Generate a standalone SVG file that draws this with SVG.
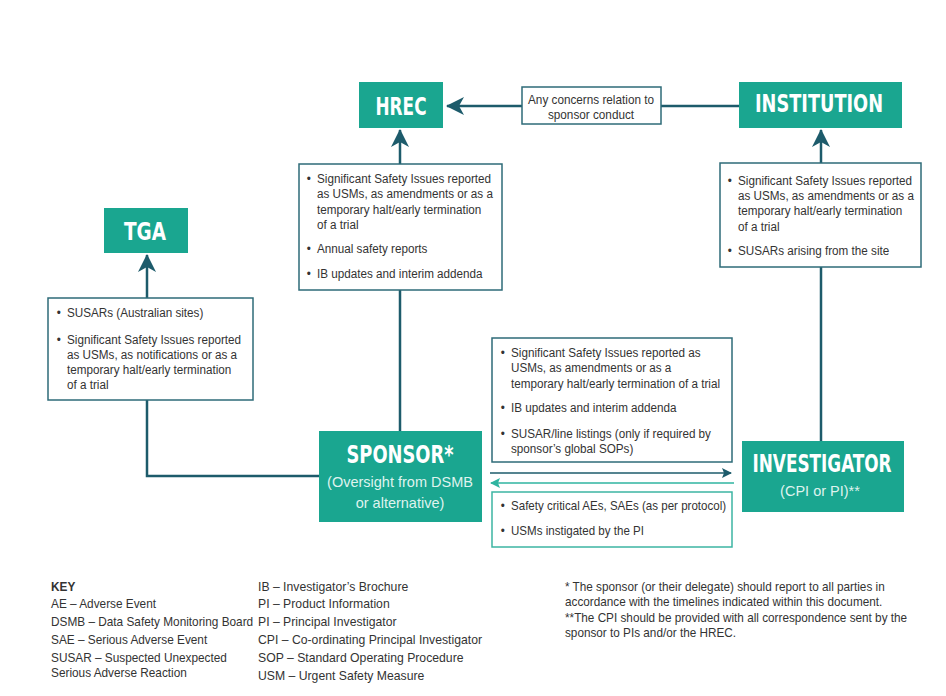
<svg xmlns="http://www.w3.org/2000/svg" width="946" height="696" viewBox="0 0 946 696">
<defs>
<style>
.hd{fill:#1aa690}
.hdt{font-family:"DejaVu Sans Condensed","Liberation Sans",sans-serif;font-weight:bold;fill:#fff;text-anchor:middle}
.sub{font-family:"Liberation Sans",sans-serif;font-size:14.5px;fill:#dff3ee;text-anchor:middle}
.bx{fill:#fff;stroke:#2e6b78;stroke-width:1.5}
.bxl{fill:#fff;stroke:#3cb5a3;stroke-width:1.5}
.t{font-family:"Liberation Sans",sans-serif;font-size:12.5px;fill:#333}
.k{font-family:"Liberation Sans",sans-serif;font-size:13px;fill:#333}
.c{fill:none;stroke:#1d5b6b;stroke-width:2.5}
.cs{fill:none;stroke:#1d5b6b;stroke-width:1.5}
.cl{fill:none;stroke:#2fb4a0;stroke-width:1.5}
</style>
<marker id="big" viewBox="0 0 18 18" refX="17" refY="9" markerWidth="18" markerHeight="18" markerUnits="userSpaceOnUse" orient="auto">
<path d="M0,0 L18,9 L0,18 L5,9 z" fill="#1d5b6b"/>
</marker>
<marker id="sm" viewBox="0 0 10 10" refX="9" refY="5" markerWidth="10" markerHeight="10" markerUnits="userSpaceOnUse" orient="auto">
<path d="M0,0 L10,5 L0,10 L2,5 z" fill="#1d5b6b"/>
</marker>
<marker id="sml" viewBox="0 0 10 10" refX="9" refY="5" markerWidth="10" markerHeight="10" markerUnits="userSpaceOnUse" orient="auto">
<path d="M0,0 L10,5 L0,10 L2,5 z" fill="#2fb4a0"/>
</marker>
</defs>
<rect width="946" height="696" fill="#fff"/>

<g id="connectors">
<path class="c" d="M739,106 L447,106" marker-end="url(#big)"/>
<path class="c" d="M400,431 L400,130" marker-end="url(#big)"/>
<path class="c" d="M319,476 L147,476 L147,255" marker-end="url(#big)"/>
<path class="c" d="M821,441 L821,130" marker-end="url(#big)"/>
<path class="cs" d="M490,473 L731,473" marker-end="url(#sm)"/>
<path class="cl" d="M734,483 L491,483" marker-end="url(#sml)"/>
</g>

<g id="hrec">
<rect class="hd" x="359" y="82" width="84" height="46"/>
<text class="hdt" x="401" y="115" font-size="24" textLength="51" lengthAdjust="spacingAndGlyphs">HREC</text>
</g>

<g id="institution">
<rect class="hd" x="739" y="82" width="163" height="46"/>
<text class="hdt" x="819" y="112" font-size="24" textLength="128" lengthAdjust="spacingAndGlyphs">INSTITUTION</text>
</g>

<g id="tga">
<rect class="hd" x="104" y="208" width="84" height="45"/>
<text class="hdt" x="145" y="240" font-size="24" textLength="42" lengthAdjust="spacingAndGlyphs">TGA</text>
</g>

<g id="sponsor">
<rect class="hd" x="319" y="431" width="163" height="91"/>
<text class="hdt" x="400" y="463" font-size="25" textLength="107" lengthAdjust="spacingAndGlyphs">SPONSOR*</text>
<text class="sub" x="400" y="487">(Oversight from DSMB</text>
<text class="sub" x="400" y="508">or alternative)</text>
</g>

<g id="investigator">
<rect class="hd" x="742" y="441" width="162" height="71"/>
<text class="hdt" x="822" y="472" font-size="25" textLength="139" lengthAdjust="spacingAndGlyphs">INVESTIGATOR</text>
<text class="sub" x="820" y="496" font-size="13.5">(CPI or PI)**</text>
</g>

<g id="concerns">
<rect class="bx" x="522" y="87" width="139" height="37"/>
<g transform="translate(591,0) scale(0.94,1)">
<text class="t" x="0" y="104" text-anchor="middle">Any concerns relation to</text>
<text class="t" x="0" y="119" text-anchor="middle">sponsor conduct</text>
</g>
</g>

<g id="hrec-box">
<rect class="bx" x="299" y="164" width="203" height="126"/>
<g transform="translate(317,0) scale(0.935,1)">
<text class="t" x="-11" y="183">•</text>
<text class="t" x="0" y="183">Significant Safety Issues reported</text>
<text class="t" x="0" y="198">as USMs, as amendments or as a</text>
<text class="t" x="0" y="214">temporary halt/early termination</text>
<text class="t" x="0" y="229">of a trial</text>
<text class="t" x="-11" y="253">•</text>
<text class="t" x="0" y="253">Annual safety reports</text>
<text class="t" x="-11" y="278">•</text>
<text class="t" x="0" y="278">IB updates and interim addenda</text>
</g>
</g>

<g id="institution-box">
<rect class="bx" x="720" y="163" width="201" height="104"/>
<g transform="translate(738,0) scale(0.935,1)">
<text class="t" x="-11" y="185">•</text>
<text class="t" x="0" y="185">Significant Safety Issues reported</text>
<text class="t" x="0" y="200">as USMs, as amendments or as a</text>
<text class="t" x="0" y="215">temporary halt/early termination</text>
<text class="t" x="0" y="231">of a trial</text>
<text class="t" x="-11" y="255">•</text>
<text class="t" x="0" y="255">SUSARs arising from the site</text>
</g>
</g>

<g id="tga-box">
<rect class="bx" x="48" y="298" width="205" height="102"/>
<g transform="translate(67,0) scale(0.935,1)">
<text class="t" x="-11" y="317">•</text>
<text class="t" x="0" y="317">SUSARs (Australian sites)</text>
<text class="t" x="-11" y="344">•</text>
<text class="t" x="0" y="344">Significant Safety Issues reported</text>
<text class="t" x="0" y="359">as USMs, as notifications or as a</text>
<text class="t" x="0" y="374">temporary halt/early termination</text>
<text class="t" x="0" y="389">of a trial</text>
</g>
</g>

<g id="to-investigator-box">
<rect class="bx" x="492" y="338" width="240" height="124"/>
<g transform="translate(511,0) scale(0.935,1)">
<text class="t" x="-11" y="357">•</text>
<text class="t" x="0" y="357">Significant Safety Issues reported as</text>
<text class="t" x="0" y="372">USMs, as amendments or as a</text>
<text class="t" x="0" y="388">temporary halt/early termination of a trial</text>
<text class="t" x="-11" y="412">•</text>
<text class="t" x="0" y="412">IB updates and interim addenda</text>
<text class="t" x="-11" y="438">•</text>
<text class="t" x="0" y="438">SUSAR/line listings (only if required by</text>
<text class="t" x="0" y="453">sponsor’s global SOPs)</text>
</g>
</g>

<g id="to-sponsor-box">
<rect class="bxl" x="492" y="492" width="240" height="55"/>
<g transform="translate(511,0) scale(0.925,1)">
<text class="t" x="-11" y="510">•</text>
<text class="t" x="0" y="510">Safety critical AEs, SAEs (as per protocol)</text>
<text class="t" x="-11" y="535">•</text>
<text class="t" x="0" y="535">USMs instigated by the PI</text>
</g>
</g>

<g id="key">
<g transform="translate(51,0) scale(0.91,1)">
<text class="k" x="0" y="591" font-weight="bold">KEY</text>
<text class="k" x="0" y="608">AE – Adverse Event</text>
<text class="k" x="0" y="626">DSMB – Data Safety Monitoring Board</text>
<text class="k" x="0" y="644">SAE – Serious Adverse Event</text>
<text class="k" x="0" y="662">SUSAR – Suspected Unexpected</text>
<text class="k" x="0" y="677">Serious Adverse Reaction</text>
</g>
<g transform="translate(258,0) scale(0.94,1)">
<text class="k" x="0" y="591">IB – Investigator’s Brochure</text>
<text class="k" x="0" y="608">PI – Product Information</text>
<text class="k" x="0" y="626">PI – Principal Investigator</text>
<text class="k" x="0" y="644">CPI – Co-ordinating Principal Investigator</text>
<text class="k" x="0" y="662">SOP – Standard Operating Procedure</text>
<text class="k" x="0" y="680">USM – Urgent Safety Measure</text>
</g>
</g>

<g id="notes">
<g transform="translate(565,0) scale(0.94,1)">
<text class="t" x="0" y="591">* The sponsor (or their delegate) should report to all parties in</text>
<text class="t" x="0" y="606">accordance with the timelines indicated within this document.</text>
<text class="t" x="0" y="622">**The CPI should be provided with all correspondence sent by the</text>
<text class="t" x="0" y="637">sponsor to PIs and/or the HREC.</text>
</g>
</g>
</svg>
